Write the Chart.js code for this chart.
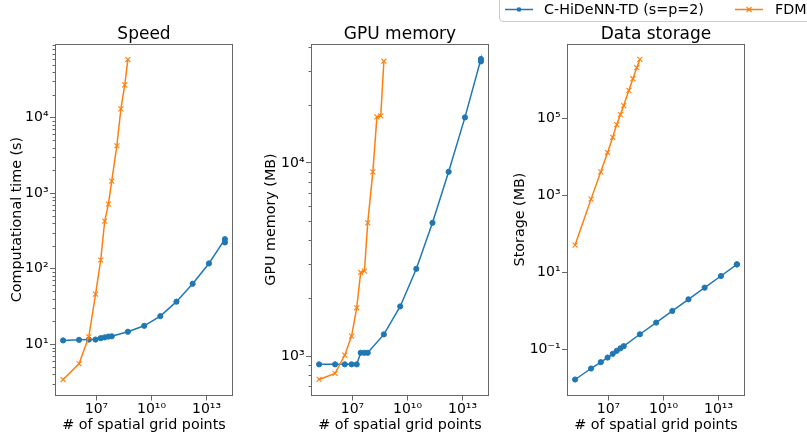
<!DOCTYPE html>
<html><head><meta charset="utf-8">
<script src="https://cdn.jsdelivr.net/npm/chart.js@4.4.1/dist/chart.umd.min.js"></script>
<style>
html,body{margin:0;padding:0;background:#fff;}
body{width:807px;height:437px;position:relative;overflow:hidden;font-family:'DejaVu Sans',sans-serif;}
.panel{position:absolute;top:0;height:437px;}
.legend-frame{position:absolute;left:499px;top:-10px;width:360px;height:32px;box-sizing:border-box;border:1px solid #cccccc;border-radius:4px;background:rgba(255,255,255,0.8);}
.leg-text{position:absolute;top:0.5px;font-size:14.3px;line-height:17px;color:#000;white-space:nowrap;}
.leg-icon{position:absolute;top:4px;}
</style></head><body>
<div class="panel" style="left:0px;width:260px"><canvas id="c1"></canvas></div>
<div class="panel" style="left:262px;width:240px"><canvas id="c2"></canvas></div>
<div class="panel" style="left:505px;width:302px"><canvas id="c3"></canvas></div>
<div class="legend-frame"></div>
<svg class="leg-icon" style="left:505px" width="28" height="11"><line x1="0" y1="5.5" x2="28" y2="5.5" stroke="#1f77b4" stroke-width="1.5"/><circle cx="14" cy="5.5" r="2.3" fill="#1f77b4"/></svg>
<span class="leg-text" id="leg1" style="left:544px"></span>
<svg class="leg-icon" style="left:735px" width="28" height="11"><line x1="0" y1="5.5" x2="28" y2="5.5" stroke="#ff7f0e" stroke-width="1.5"/><line x1="11.5" y1="3" x2="16.5" y2="8" stroke="#ff7f0e" stroke-width="1.1"/><line x1="11.5" y1="8" x2="16.5" y2="3" stroke="#ff7f0e" stroke-width="1.1"/></svg>
<span class="leg-text" id="leg2" style="left:775px"></span>
<script>
// ---- data ----
const seriesNames = ['C-HiDeNN-TD (s=p=2)', 'FDM'];
const panelTitles = ['Speed', 'GPU memory', 'Data storage'];
const yAxisTitles = ['Computational time (s)', 'GPU memory (MB)', 'Storage (MB)'];
const xAxisTitle = '# of spatial grid points';

const gridPointsHiDeNN = [1.51e5, 1.12e6, 3.8e6, 8.9e6, 1.7e7, 2.8e7, 4.47e7, 6.76e7, 5.13e8, 3.98e9, 3.02e10, 2.29e11, 1.74e12, 1.35e13, 1.0e14, 1.0e14];
const gridPointsFDM    = [1.51e5, 1.12e6, 3.8e6, 8.9e6, 1.7e7, 2.8e7, 4.47e7, 6.76e7, 1.29e8, 2.14e8, 3.47e8, 5.13e8];

const timeHiDeNN = [11.2, 11.4, 11.5, 11.5, 12.0, 12.3, 12.6, 12.7, 14.6, 17.5, 23.5, 36.5, 63, 117, 245, 222];
const timeFDM    = [3.4, 5.5, 12.5, 46, 130, 426, 714, 1440, 4230, 13000, 27100, 58600];

const gpuHiDeNN = [906, 906, 906, 906, 906, 1040, 1040, 1040, 1295, 1807, 2830, 4895, 8990, 17200, 34500, 33500];
const gpuFDM    = [757, 813, 1012, 1269, 1778, 2710, 2750, 4895, 8990, 17300, 17500, 33600];

const storageHiDeNN = [0.0163, 0.0315, 0.046, 0.0608, 0.0757, 0.0906, 0.106, 0.120, 0.245, 0.493, 0.991, 1.99, 4.0, 8.04, 16.1, 16.1];
const storageFDM    = [51.3, 804, 4120, 13100, 32700, 69800, 127000, 218000, 545000, 1.09e6, 2.11e6, 3.47e6];

const xTickValues = [1e7, 1e10, 1e13];
const xTickLabels = ['10\u2077', '10\u00b9\u2070', '10\u00b9\u00b3'];
const timeTickValues = [1e1, 1e2, 1e3, 1e4];
const timeTickLabels = ['10\u00b9', '10\u00b2', '10\u00b3', '10\u2074'];
const gpuTickValues = [1e3, 1e4];
const gpuTickLabels = ['10\u00b3', '10\u2074'];
const storageTickValues = [1e-1, 1e1, 1e3, 1e5];
const storageTickLabels = ['10\u207b\u00b9', '10\u00b9', '10\u00b3', '10\u2075'];

const xRange = [5.47e4, 2.76e14];
const timeRange = [2.09, 95500];
const gpuRange = [625, 41500];
const storageRange = [0.00625, 9.0e6];

// ---- styling / layout ----
const BLUE = '#1f77b4', ORANGE = '#ff7f0e', SPINE = '#666666';
const H = 437, PLOT_TOP = 43.5, PLOT_BOTTOM = 395.5;
Chart.defaults.font.family = "'DejaVu Sans', sans-serif";
Chart.defaults.color = '#000';

document.getElementById('leg1').textContent = seriesNames[0];
document.getElementById('leg2').textContent = seriesNames[1];

const pts = (xs, ys) => xs.map((x, i) => ({x: x, y: ys[i]}));

const decor = {
  id: 'decor',
  afterDraw(chart) {
    const o = chart.options.plugins.decor;
    const {ctx, chartArea: a} = chart;
    ctx.save();
    ctx.strokeStyle = SPINE; ctx.lineWidth = 1;
    const l = Math.round(a.left) + 0.5, r = Math.round(a.right) - 0.5;
    const t = Math.round(a.top) + 0.5, b = Math.round(a.bottom) - 0.5;
    ctx.strokeRect(l, t, r - l, b - t);
    if (o.minor) {
      const ys = chart.scales.y;
      const e0 = Math.floor(Math.log10(ys.min)), e1 = Math.ceil(Math.log10(ys.max));
      for (let e = e0; e <= e1; e++) {
        for (let m = 2; m <= 9; m++) {
          const v = m * Math.pow(10, e);
          if (v < ys.min || v > ys.max) continue;
          const py = Math.round(ys.getPixelForValue(v)) + 0.5;
          ctx.beginPath(); ctx.moveTo(l - 3, py); ctx.lineTo(l, py); ctx.stroke();
        }
      }
    }
    ctx.fillStyle = '#000';
    ctx.font = "17px 'DejaVu Sans', sans-serif";
    ctx.textAlign = 'center'; ctx.textBaseline = 'alphabetic';
    ctx.fillText(o.title, (a.left + a.right) / 2, 38.7);
    ctx.restore();
  }
};

function makePanel(id, p) {
  new Chart(document.getElementById(id), {
    type: 'line',
    data: {
      datasets: [
        {label: seriesNames[0], data: pts(gridPointsHiDeNN, p.hidenn), order: 1,
         borderColor: BLUE, backgroundColor: BLUE, borderWidth: 1.5,
         pointStyle: 'circle', pointRadius: 2.6, pointBorderWidth: 1, pointHoverRadius: 2.6, tension: 0, fill: false},
        {label: seriesNames[1], data: pts(gridPointsFDM, p.fdm), order: 0,
         borderColor: ORANGE, backgroundColor: ORANGE, borderWidth: 1.5,
         pointStyle: 'crossRot', pointRadius: 3.5, pointBorderWidth: 1.1, pointHoverRadius: 3.5, tension: 0, fill: false}
      ]
    },
    options: {
      responsive: true, maintainAspectRatio: false, animation: false, events: [],
      layout: {padding: {top: PLOT_TOP, right: p.rightPad, left: 0, bottom: 0}},
      plugins: {legend: {display: false}, tooltip: {enabled: false},
                decor: {title: p.title, minor: p.minor}},
      scales: {
        x: {
          type: 'logarithmic', position: 'bottom', bounds: 'data',
          min: xRange[0], max: xRange[1],
          afterBuildTicks: s => { s.ticks = xTickValues.map(v => ({value: v})); },
          afterFit: s => { s.height = H - PLOT_BOTTOM; },
          ticks: {autoSkip: false, maxRotation: 0, padding: 0.5, font: {size: 14},
                  callback: (v, i) => xTickLabels[i]},
          grid: {display: true, drawOnChartArea: false, drawTicks: true, tickLength: 5, color: SPINE, tickWidth: 1},
          border: {display: false},
          title: {display: true, text: xAxisTitle, font: {size: 14.3}, padding: {top: 0, bottom: 3}}
        },
        y: {
          type: 'logarithmic', position: 'left', bounds: 'data',
          min: p.range[0], max: p.range[1],
          afterBuildTicks: s => { s.ticks = p.tickValues.map(v => ({value: v})); },
          afterFit: s => { s.width = p.yWidth; },
          ticks: {autoSkip: false, padding: 1.5, font: {size: 14},
                  callback: (v, i) => p.tickLabels[i]},
          grid: {display: true, drawOnChartArea: false, drawTicks: true, tickLength: 5, color: SPINE, tickWidth: 1},
          border: {display: false},
          title: {display: true, text: p.yTitle, font: {size: 14.3}, padding: {top: p.yTitlePad, bottom: 0}}
        }
      }
    },
    plugins: [decor]
  });
}

makePanel('c1', {title: panelTitles[0], yTitle: yAxisTitles[0], hidenn: timeHiDeNN, fdm: timeFDM,
  range: timeRange, tickValues: timeTickValues, tickLabels: timeTickLabels, minor: true,
  yWidth: 55, rightPad: 27, yTitlePad: 8.4});
makePanel('c2', {title: panelTitles[1], yTitle: yAxisTitles[1], hidenn: gpuHiDeNN, fdm: gpuFDM,
  range: gpuRange, tickValues: gpuTickValues, tickLabels: gpuTickLabels, minor: true,
  yWidth: 49, rightPad: 13, yTitlePad: 1.1});
makePanel('c3', {title: panelTitles[2], yTitle: yAxisTitles[2], hidenn: storageHiDeNN, fdm: storageFDM,
  range: storageRange, tickValues: storageTickValues, tickLabels: storageTickLabels, minor: false,
  yWidth: 62, rightPad: 62, yTitlePad: 6.4});
</script>
</body></html>
